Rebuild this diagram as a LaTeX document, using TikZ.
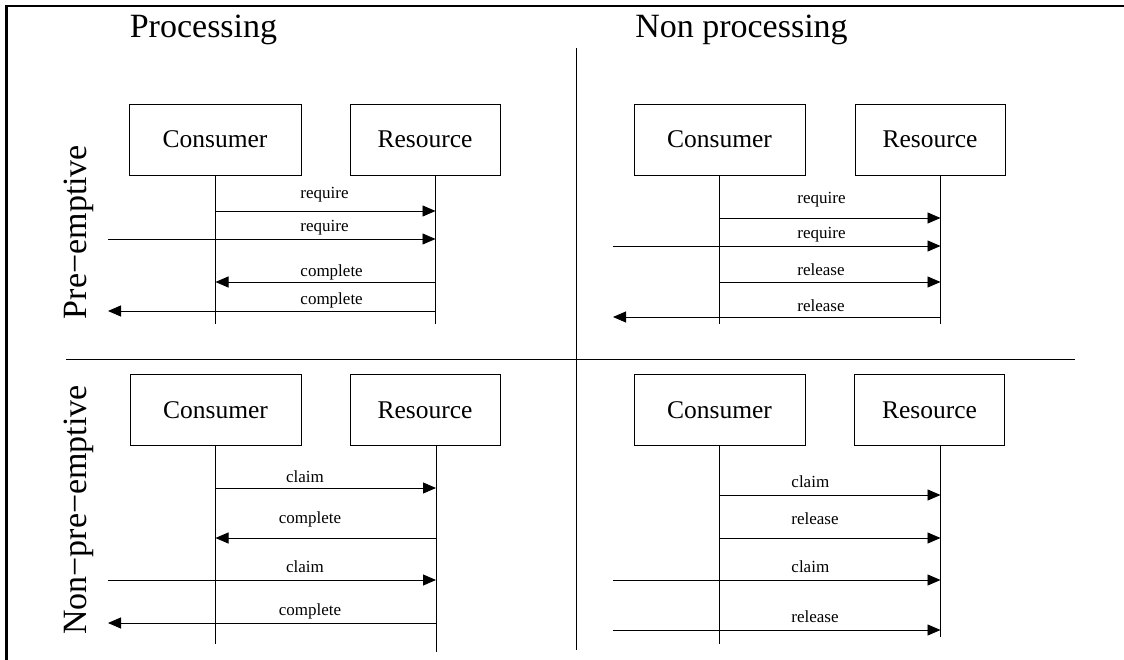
\documentclass[tikz,border=0pt]{standalone}
\usepackage{fontspec}
\setmainfont{Liberation Serif}
\usetikzlibrary{arrows.meta}
\begin{document}
\begin{tikzpicture}[x=1pt,y=-1pt,
  line width=0.9pt,
  actor/.style={draw, line width=0.9pt, inner sep=0pt, minimum height=71pt, font=\fontsize{25.5}{30}\selectfont},
  title/.style={inner sep=0pt, font=\fontsize{34}{40}\selectfont},
  lbl/.style={inner sep=0pt, font=\fontsize{17}{20}\selectfont},
  life/.style={line width=0.9pt},
  msg/.style={line width=0.9pt, -{Triangle[length=13pt,width=11pt]}},
  frame/.style={line width=2.6pt}]
\useasboundingbox (0,0) rectangle (1124,660);

% frame
\coordinate (fTL) at (6.5,6);
\coordinate (fTR) at (1124,6);
\coordinate (fBL) at (6.5,660);
\draw[frame] (fTR) -- (fTL) -- (fBL);

% dividers
\coordinate (vT) at (576,48);
\coordinate (vB) at (576,650);
\coordinate (hL) at (66,359);
\coordinate (hR) at (1075,359);
\draw (vT) -- (vB);
\draw (hL) -- (hR);

% titles
\node[title] (tproc) at (203.5,29.5) {Processing};
\node[title] (tnon) at (741.5,29.5) {Non processing};
\node[title, rotate=90, anchor=base] (tpre) at (86,232) {Pre−emptive};
\node[title, rotate=90, anchor=base] (tnonpre) at (86,510) {Non−pre−emptive};

% ---------- top-left ----------
\node[actor, minimum width=172pt] (c1) at (215,139.5) {Consumer};
\node[actor, minimum width=150pt] (r1) at (425,139.5) {Resource};
\coordinate (c1t) at (215.5,175); \coordinate (c1b) at (215.5,324);
\coordinate (r1t) at (435.5,175); \coordinate (r1b) at (435.5,324);
\draw[life] (c1t) -- (c1b);
\draw[life] (r1t) -- (r1b);
\coordinate (a1s) at (215.5,211); \coordinate (a1e) at (435.5,211);
\coordinate (a2s) at (108,239);   \coordinate (a2e) at (435.5,239);
\coordinate (a3s) at (435.5,282); \coordinate (a3e) at (215.5,282);
\coordinate (a4s) at (435.5,311); \coordinate (a4e) at (108,311);
\draw[msg] (a1s) -- (a1e);
\draw[msg] (a2s) -- (a2e);
\draw[msg] (a3s) -- (a3e);
\draw[msg] (a4s) -- (a4e);
\node[lbl, anchor=west] (la1) at (300,195) {require};
\node[lbl, anchor=west] (la2) at (300,228) {require};
\node[lbl, anchor=west] (la3) at (300,272) {complete};
\node[lbl, anchor=west] (la4) at (300,300) {complete};

% ---------- top-right ----------
\node[actor, minimum width=171pt] (c2) at (719.5,139.5) {Consumer};
\node[actor, minimum width=150pt] (r2) at (930,139.5) {Resource};
\coordinate (c2t) at (719.5,175); \coordinate (c2b) at (719.5,324);
\coordinate (r2t) at (940.5,175); \coordinate (r2b) at (940.5,324);
\draw[life] (c2t) -- (c2b);
\draw[life] (r2t) -- (r2b);
\coordinate (b1s) at (719.5,218); \coordinate (b1e) at (940.5,218);
\coordinate (b2s) at (613,246);   \coordinate (b2e) at (940.5,246);
\coordinate (b3s) at (719.5,282); \coordinate (b3e) at (940.5,282);
\coordinate (b4s) at (940.5,317); \coordinate (b4e) at (613,317);
\draw[msg] (b1s) -- (b1e);
\draw[msg] (b2s) -- (b2e);
\draw[msg] (b3s) -- (b3e);
\draw[msg] (b4s) -- (b4e);
\node[lbl, anchor=west] (lb1) at (797,200) {require};
\node[lbl, anchor=west] (lb2) at (797,235) {require};
\node[lbl, anchor=west] (lb3) at (797,270) {release};
\node[lbl, anchor=west] (lb4) at (797,306) {release};

% ---------- bottom-left ----------
\node[actor, minimum width=171pt] (c3) at (215.5,410) {Consumer};
\node[actor, minimum width=150pt] (r3) at (425,410) {Resource};
\coordinate (c3t) at (215.5,446); \coordinate (c3b) at (215.5,644);
\coordinate (r3t) at (436,446);   \coordinate (r3b) at (436,652);
\draw[life] (c3t) -- (c3b);
\draw[life] (r3t) -- (r3b);
\coordinate (e1s) at (215.5,488); \coordinate (e1e) at (436,488);
\coordinate (e2s) at (436,538);   \coordinate (e2e) at (215.5,538);
\coordinate (e3s) at (108,580);   \coordinate (e3e) at (436,580);
\coordinate (e4s) at (436,623);   \coordinate (e4e) at (108,623);
\draw[msg] (e1s) -- (e1e);
\draw[msg] (e2s) -- (e2e);
\draw[msg] (e3s) -- (e3e);
\draw[msg] (e4s) -- (e4e);
\node[lbl] (le1) at (305,477) {claim};
\node[lbl] (le2) at (310,519) {complete};
\node[lbl] (le3) at (305,567) {claim};
\node[lbl] (le4) at (310,611) {complete};

% ---------- bottom-right ----------
\node[actor, minimum width=171pt] (c4) at (719.5,410) {Consumer};
\node[actor, minimum width=150pt] (r4) at (929.5,410) {Resource};
\coordinate (c4t) at (719.5,446); \coordinate (c4b) at (719.5,644);
\coordinate (r4t) at (940.5,446); \coordinate (r4b) at (940.5,637);
\draw[life] (c4t) -- (c4b);
\draw[life] (r4t) -- (r4b);
\coordinate (d1s) at (719.5,495); \coordinate (d1e) at (940.5,495);
\coordinate (d2s) at (719.5,538); \coordinate (d2e) at (940.5,538);
\coordinate (d3s) at (613,580);   \coordinate (d3e) at (940.5,580);
\coordinate (d4s) at (613,630);   \coordinate (d4e) at (940.5,630);
\draw[msg] (d1s) -- (d1e);
\draw[msg] (d2s) -- (d2e);
\draw[msg] (d3s) -- (d3e);
\draw[msg] (d4s) -- (d4e);
\node[lbl, anchor=west] (ld1) at (791,482) {claim};
\node[lbl, anchor=west] (ld2) at (791,519) {release};
\node[lbl, anchor=west] (ld3) at (791,567) {claim};
\node[lbl, anchor=west] (ld4) at (791,617) {release};
\end{tikzpicture}
\end{document}
